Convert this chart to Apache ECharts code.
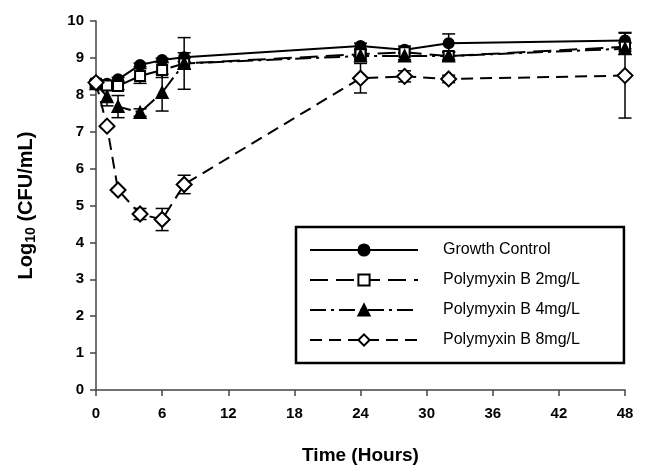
<!DOCTYPE html>
<html><head><meta charset="utf-8">
<script src="https://cdn.jsdelivr.net/npm/echarts@6/dist/echarts.min.js"></script>
<style>html,body{margin:0;padding:0;background:#fff}#c{width:645px;height:466px}</style>
</head><body><div id="c"></div>
<script>
const times = [0, 1, 2, 4, 6, 8, 24, 28, 32, 48];
const seriesNames = ['Growth Control', 'Polymyxin B 2mg/L', 'Polymyxin B 4mg/L', 'Polymyxin B 8mg/L'];
const growthControl = [8.35, 8.3, 8.42, 8.81, 8.94, 9.02, 9.32, 9.22, 9.4, 9.47];
const growthControlSD = [0.05, 0.05, 0.05, 0.05, 0.05, 0.12, 0.08, 0.1, 0.25, 0.22];
const pmb2 = [8.3, 8.25, 8.24, 8.51, 8.67, 8.85, 9.1, 9.15, 9.05, 9.3];
const pmb2SD = [0.05, 0.1, 0.1, 0.2, 0.2, 0.15, 0.1, 0.1, 0.12, 0.12];
const pmb4 = [8.3, 7.95, 7.68, 7.52, 8.06, 8.85, 9.05, 9.05, 9.05, 9.25];
const pmb4SD = [0.1, 0.25, 0.3, 0.1, 0.5, 0.7, 0.1, 0.1, 0.1, 0.15];
const pmb8 = [8.33, 7.15, 5.42, 4.77, 4.62, 5.57, 8.45, 8.5, 8.43, 8.52];
const pmb8SD = [0.05, 0.05, 0.05, 0.15, 0.3, 0.25, 0.4, 0.15, 0.1, 1.15];
const xTicks = [0, 6, 12, 18, 24, 30, 36, 42, 48];
const yTicks = [0, 1, 2, 3, 4, 5, 6, 7, 8, 9, 10];

const values = [growthControl, pmb2, pmb4, pmb8];
const sds = [growthControlSD, pmb2SD, pmb4SD, pmb8SD];
const symbols = ['circle', 'rect', 'triangle', 'diamond'];
const symbolSizes = [10, 10, 11, 15];
const fills = ['#000', '#fff', '#000', '#fff'];
const dashes = ['solid', [18, 8], [16, 5, 3, 5], [12, 7]];
const font = 'Liberation Sans, Arial, sans-serif';

const chart = echarts.init(document.getElementById('c'), null, {renderer: 'canvas'});
const series = [];
values.forEach((vals, si) => {
  series.push({
    type: 'custom', silent: true, z: 1,
    data: times.map((t, i) => [t, vals[i] - sds[si][i], vals[i] + sds[si][i]]),
    renderItem: (params, api) => {
      const lo = api.coord([api.value(0), api.value(1)]);
      const hi = api.coord([api.value(0), api.value(2)]);
      const w = 6.5;
      const st = {stroke: '#000', lineWidth: 1.5};
      return {type: 'group', children: [
        {type: 'line', shape: {x1: lo[0], y1: lo[1], x2: hi[0], y2: hi[1]}, style: st},
        {type: 'line', shape: {x1: lo[0] - w, y1: lo[1], x2: lo[0] + w, y2: lo[1]}, style: st},
        {type: 'line', shape: {x1: hi[0] - w, y1: hi[1], x2: hi[0] + w, y2: hi[1]}, style: st}
      ]};
    }
  });
});
values.forEach((vals, si) => {
  series.push({
    name: seriesNames[si], type: 'line', z: 3,
    data: times.map((t, i) => [t, vals[i]]),
    symbol: symbols[si], symbolSize: symbolSizes[si], showAllSymbol: true,
    itemStyle: {color: fills[si], borderColor: '#000', borderWidth: 2},
    lineStyle: {color: '#000', width: 2, type: dashes[si]},
    emphasis: {disabled: true}
  });
});

chart.setOption({
  animation: false,
  backgroundColor: '#fff',
  grid: {left: 96, right: 20, top: 21, bottom: 76, containLabel: false, outerBoundsMode: 'none'},
  legend: {
    data: seriesNames.map((n, i) => ({name: n, itemStyle: {borderWidth: 2}})),
    orient: 'vertical', left: 296, top: 227,
    itemWidth: 108, itemHeight: 14, itemGap: 14,
    padding: [15, 44, 15, 13],
    borderColor: '#000', borderWidth: 2.5,
    textStyle: {fontFamily: font, fontSize: 16, color: '#000', padding: [0, 0, 0, 20]},
    selectedMode: false
  },
  xAxis: {
    type: 'value', min: 0, max: 48, interval: 6,
    name: 'Time (Hours)', nameLocation: 'middle', nameGap: 56,
    nameTextStyle: {fontFamily: font, fontSize: 19, fontWeight: 'bold', color: '#000'},
    axisLine: {lineStyle: {color: '#444', width: 1.5}},
    axisTick: {show: true, inside: false, length: 6, lineStyle: {color: '#444', width: 1.5}},
    axisLabel: {fontFamily: font, fontSize: 15, fontWeight: 'bold', color: '#000', margin: 16,
      formatter: v => xTicks.includes(v) ? String(v) : ''},
    splitLine: {show: false}
  },
  yAxis: {
    type: 'value', min: 0, max: 10, interval: 1,
    name: 'Log{sub|10} (CFU/mL)', nameLocation: 'middle', nameGap: 58, nameRotate: 90,
    nameTextStyle: {fontFamily: font, fontSize: 20, fontWeight: 'bold', color: '#000',
      rich: {sub: {fontFamily: font, fontSize: 14, fontWeight: 'bold', color: '#000', verticalAlign: 'bottom', padding: [10, 0, 0, 0]}}},
    axisLine: {show: true, lineStyle: {color: '#444', width: 1.5}},
    axisTick: {show: true, inside: false, length: 6, lineStyle: {color: '#444', width: 1.5}},
    axisLabel: {fontFamily: font, fontSize: 15, fontWeight: 'bold', color: '#000', margin: 12,
      formatter: v => yTicks.includes(v) ? String(v) : ''},
    splitLine: {show: false}
  },
  series: series
});
</script></body></html>
